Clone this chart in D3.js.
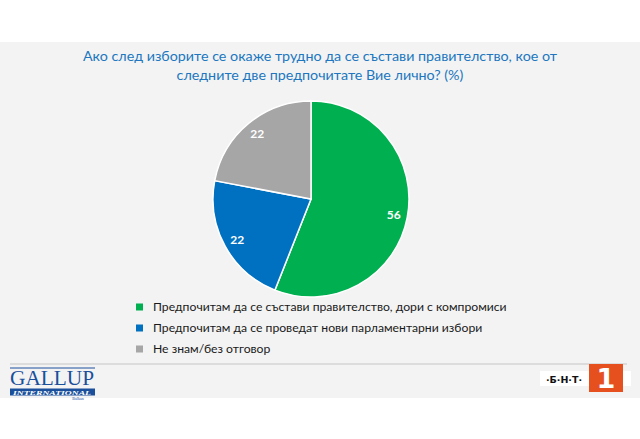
<!DOCTYPE html>
<html><head><meta charset="utf-8">
<script src="https://cdn.jsdelivr.net/npm/d3@7"></script>
<style>body{margin:0;background:#fff}svg{display:block}</style>
</head><body>
<svg id="c" width="640" height="439"></svg>
<script>
const titleLines = ["Ако след изборите се окаже трудно да се състави правителство, кое от", "следните две предпочитате Вие лично? (%)"];
const categories = ["Предпочитам да се състави правителство, дори с компромиси", "Предпочитам да се проведат нови парламентарни избори", "Не знам/без отговор"];
const values = [56, 22, 22];
const colors = ["#00b050", "#0070c0", "#a6a6a6"];

const svg = d3.select("#c");
const W = 640, H = 439;
// grey panel
svg.append("rect").attr("x",0).attr("y",42).attr("width",W).attr("height",356).attr("fill","#f3f3f3");
svg.append("line").attr("x1",10).attr("x2",627).attr("y1",364).attr("y2",364).attr("stroke","#dcdcdc").attr("stroke-width",2);

// title
svg.append("text").attr("x",320).attr("y",61).attr("text-anchor","middle")
  .attr("font-family","Lato").attr("font-size",14.3).attr("fill","#2077c0")
  .selectAll("tspan").data(titleLines).join("tspan")
  .attr("x",320).attr("dy",(d,i)=>i?18.5:0).text(d=>d);

// pie
const cx = 311, cy = 199, r = 98;
const pie = d3.pie().sort(null).value(d=>d)(values);
const arc = d3.arc().innerRadius(0).outerRadius(r);
const g = svg.append("g").attr("transform",`translate(${cx},${cy})`);
g.selectAll("path").data(pie).join("path")
  .attr("d",arc).attr("fill",(d,i)=>colors[i]).attr("stroke","#fff").attr("stroke-width",1.5);
const labelArc = d3.arc().innerRadius(r*0.86).outerRadius(r*0.86);
g.selectAll("text").data(pie).join("text")
  .attr("transform",d=>`translate(${labelArc.centroid(d)})`)
  .attr("text-anchor","middle").attr("dy","0.35em")
  .attr("font-family","Lato").attr("font-weight","bold").attr("font-size",12).attr("fill","#fff")
  .text(d=>d.data);

// legend
const leg = svg.append("g");
const items = leg.selectAll("g").data(categories).join("g")
  .attr("transform",(d,i)=>`translate(136,${307 + i*21})`);
items.append("rect").attr("x",0).attr("y",-3.5).attr("width",7).attr("height",7).attr("fill",(d,i)=>colors[i]);
items.append("text").attr("x",17).attr("dy","0.35em").attr("font-family","Lato").attr("font-size",12.2).attr("fill","#1a1a1a").text(d=>d);

// Gallup logo
const lg = svg.append("g");
lg.append("line").attr("x1",10).attr("x2",95).attr("y1",368).attr("y2",368).attr("stroke","#1a4f9c").attr("stroke-width",1);
lg.append("text").attr("x",52).attr("y",385).attr("text-anchor","middle").attr("font-family","Liberation Serif").attr("font-size",21.5).attr("fill","#1a4f9c").attr("textLength",84).attr("lengthAdjust","spacingAndGlyphs").text("GALLUP");
lg.append("rect").attr("x",10).attr("y",388.5).attr("width",85).attr("height",7).attr("fill","#1a4f9c");
lg.append("text").attr("x",52).attr("y",395).attr("text-anchor","middle").attr("font-family","Liberation Serif").attr("font-style","italic").attr("font-weight","bold").attr("font-size",6).attr("fill","#fff").attr("textLength",78).attr("lengthAdjust","spacingAndGlyphs").text("INTERNATIONAL");
lg.append("text").attr("x",78).attr("y",400).attr("text-anchor","middle").attr("font-family","Liberation Serif").attr("font-size",4).attr("fill","#1a4f9c").text("Balkan");

// BNT logo
const bg = svg.append("g");
bg.append("rect").attr("x",540).attr("y",371).attr("width",91).attr("height",15).attr("fill","#fff");
bg.append("text").attr("x",564).attr("y",382.5).attr("text-anchor","middle").attr("font-family","DejaVu Sans").attr("font-weight","bold").attr("font-size",9.5).attr("fill","#111").text("·Б·Н·Т·");
bg.append("rect").attr("x",589).attr("y",364).attr("width",34).attr("height",28).attr("fill","#e5501e");
bg.append("text").attr("x",606).attr("y",388).attr("text-anchor","middle").attr("font-family","DejaVu Sans").attr("font-weight","bold").attr("font-size",27).attr("fill","#fff").text("1");
</script>
</body></html>
